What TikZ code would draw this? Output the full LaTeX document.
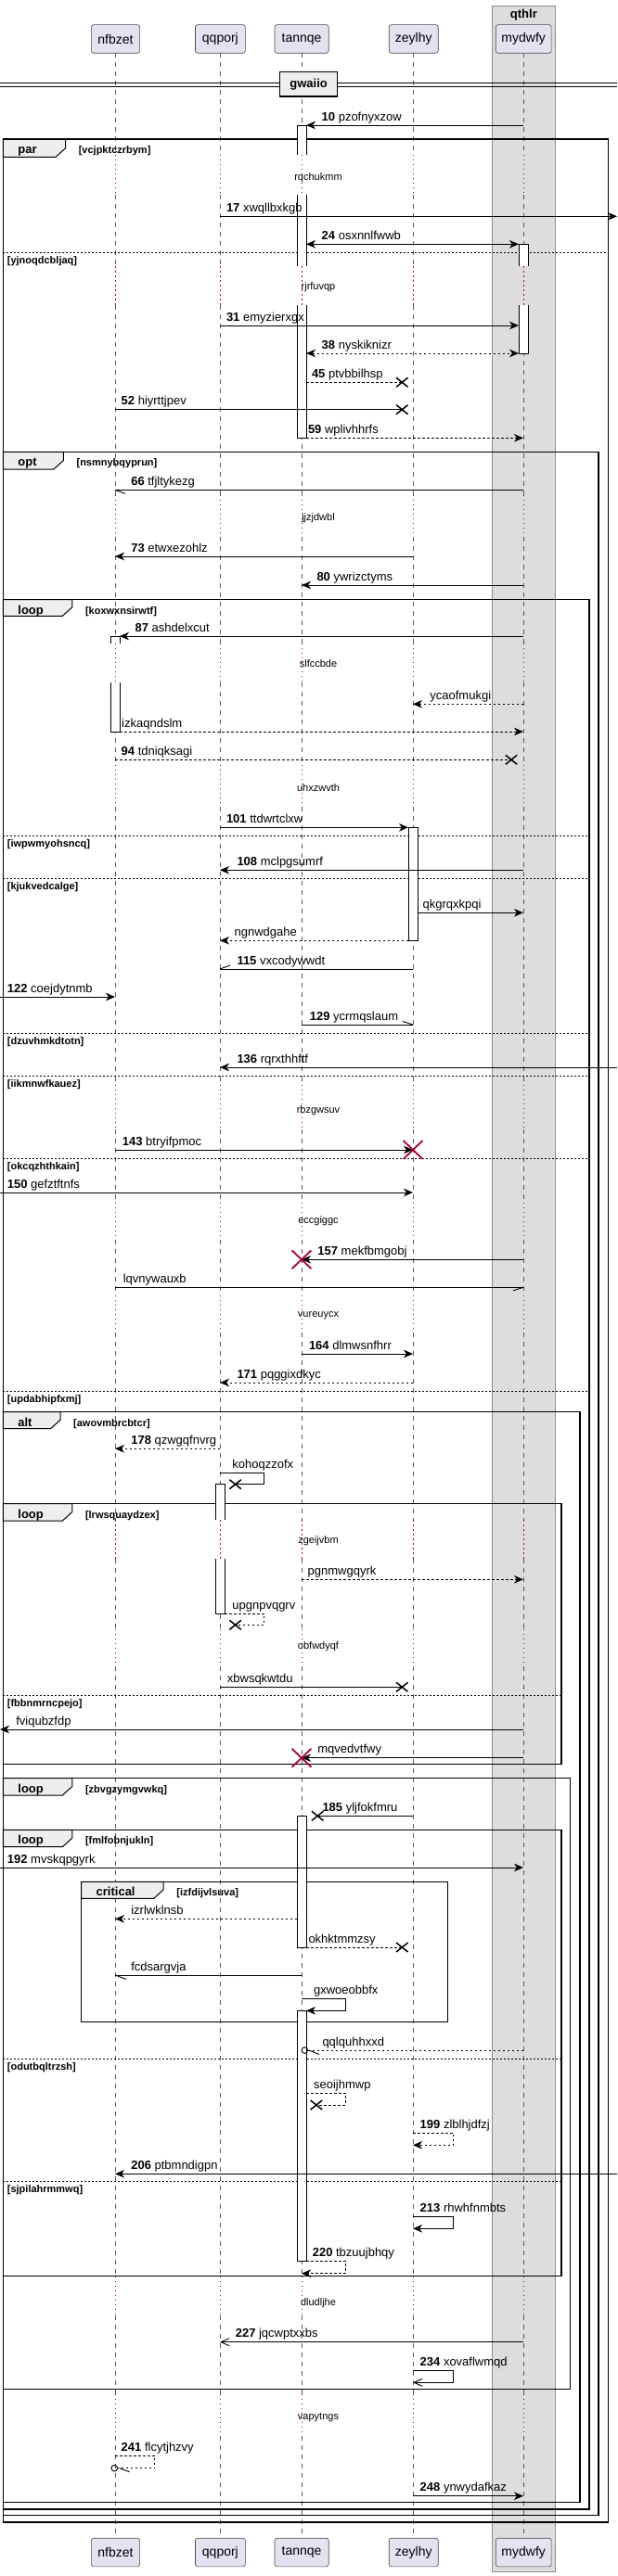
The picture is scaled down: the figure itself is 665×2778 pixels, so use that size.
\documentclass[tikz,border=0pt]{standalone}
\usepackage{fontspec}
\setmainfont{Liberation Sans}
\usetikzlibrary{arrows.meta,shapes.misc}
\definecolor{partfill}{RGB}{226,226,240}
\definecolor{dred}{RGB}{168,0,54}
\definecolor{boxgray}{RGB}{221,221,221}
\definecolor{tabfill}{RGB}{238,238,238}
\newcommand\fsz[1]{\fontsize{#1}{#1}\selectfont}
\tikzset{
  part/.style={draw=black!70,line width=0.6pt,fill=partfill,rounded corners=2.5pt,minimum height=30.6pt,inner sep=0pt,font=\fsz{14}},
  life/.style={draw=black!65,line width=0.6pt,dash pattern=on 5pt off 5pt},
  dlife/.style={draw=dred,line width=0.8pt,dash pattern=on 1.2pt off 3.8pt},
  msg/.style={line width=0.9pt,-{Stealth[length=10pt,width=8.5pt,inset=3pt]}},
  msgb/.style={line width=0.9pt,{Stealth[length=10pt,width=8.5pt,inset=3pt]}-{Stealth[length=10pt,width=8.5pt,inset=3pt]}},
  msgo/.style={line width=0.9pt,-{Straight Barb[length=9pt,width=8pt]}},
  pln/.style={line width=0.9pt},
  dsh/.style={dash pattern=on 2.5pt off 2.5pt},
  lab/.style={anchor=base west,inner sep=0pt,font=\fsz{13}},
  dtxt/.style={inner sep=0pt,font=\fsz{11}},
  frm/.style={line width=1.5pt},
  tabs/.style={draw,line width=1pt,fill=tabfill},
  kindlab/.style={anchor=base west,inner sep=0pt,font=\bfseries\fsz{13}},
  condlab/.style={anchor=base west,inner sep=0pt,font=\bfseries\fsz{11}},
  sect/.style={line width=0.8pt,dash pattern=on 2pt off 2pt},
  actb/.style={draw,line width=0.8pt},
  lostx/.style={draw,cross out,line width=1.5pt,minimum width=11pt,minimum height=8.5pt,inner sep=0pt},
  killx/.style={draw=dred,cross out,line width=1.8pt,minimum width=19pt,minimum height=18pt,inner sep=0pt},
  circend/.style={draw,circle,line width=0.9pt,minimum size=6.6pt,inner sep=0pt},
}
% #1 name, #2 x0, #3 y0, #4 x1, #5 y1, #6 tab right, #7 tab bottom, #8 kind, #9 condition
\newcommand\sqframe[9]{%
  \draw[tabs] (#2,#3) -- (#6,#3) -- (#6,#7-9.5) -- (#6-10.5,#7) -- (#2,#7) -- cycle;
  \draw[frm] (#2,#3) rectangle (#4,#5);
  \node[kindlab] (#1k) at (#2+15.8,#3+15.5) {#8};
  \node[condlab] (#1c) at (#6+14,#3+15.5) {#9};
}
\newcommand\sectline[5]{% #1 name, #2 x0, #3 x1, #4 y, #5 text
  \draw[sect] (#2,#4) -- (#3,#4);
  \node[condlab] (#1) at (7.7,#4+12) {#5};
}
\begin{document}
\begin{tikzpicture}[x=1pt,y=-1pt]
\useasboundingbox (0,0) rectangle (665,2778);
% lifeline coordinates
\coordinate (A) at (124,0);  \coordinate (Al) at (119,0); \coordinate (Ar) at (129,0);
\coordinate (B) at (237,0);  \coordinate (Bl) at (232,0); \coordinate (Br) at (242,0);
\coordinate (C) at (325,0);  \coordinate (Cl) at (320,0); \coordinate (Cr) at (330,0);
\coordinate (D) at (445,0);  \coordinate (Dl) at (440,0); \coordinate (Dr) at (450,0);
\coordinate (E) at (564,0);  \coordinate (El) at (559,0); \coordinate (Er) at (569,0);
\coordinate (L) at (0,0);    \coordinate (R) at (665,0);
% box qthlr
\fill[boxgray] (530.4,6) rectangle (598.4,2773);
\draw[black!45,line width=0.8pt] (530.4,6) rectangle (598.4,2773);
\node[font=\bfseries\fsz{13},inner sep=0pt] (qthlr) at (564.4,16) {qthlr};
% lifelines
\foreach \lx in {124,237,325,445,564}{
  \foreach \ya/\yb in {57.3/167,210/287.3,329/534,579/694,736/825,870/1165,1218/1297,1337/1397,1437/1639.3,1680.7/1757,1797/2455,2497/2582,2627/2736.7}{
    \draw[life] (\lx,\ya) -- (\lx,\yb);
  }
  \foreach \ya/\yb in {167/210,287.3/329,534/579,694/736,825/870,1165/1218,1297/1337,1397/1437,1639.3/1680.7,1757/1797,2455/2497,2582/2627}{
    \draw[dlife] (\lx,\ya) -- (\lx,\yb);
  }
}
% delays
\node[dtxt] (dl1) at (343,191.7) {rqchukmm};
\node[dtxt] (dl2) at (343,310) {rjrfuvqp};
\node[dtxt] (dl3) at (343,559) {jjzjdwbl};
\node[dtxt] (dl4) at (343,716) {slfccbde};
\node[dtxt] (dl5) at (343,849.3) {uhxzwvth};
\node[dtxt] (dl6) at (343,1197.7) {rbzgwsuv};
\node[dtxt] (dl7) at (343,1316.7) {eccgiggc};
\node[dtxt] (dl8) at (343,1418.3) {vureuycx};
\node[dtxt] (dl9) at (343,1661.7) {zgeijvbm};
\node[dtxt] (dl10) at (343,1776) {obfwdyqf};
\node[dtxt] (dl11) at (343,2483.3) {dludljhe};
\node[dtxt] (dl12) at (343,2607.3) {vapytngs};
% divider
\draw[line width=0.8pt] (0,89.3) -- (665,89.3);
\draw[line width=0.8pt] (0,93.3) -- (665,93.3);
\node[draw,line width=1.5pt,fill=tabfill,minimum width=62pt,minimum height=26.3pt,inner sep=0pt,font=\bfseries\fsz{13}] (gw) at (332.6,90.85) {gwaiio};
% frames
\sqframe{fpar}{3.4}{150}{655.3}{2720}{70.6}{169.3}{par}{[vcjpktczrbym]}
\sectline{s1}{3.4}{655.3}{272.3}{[yjnoqdcbljaq]}
\sqframe{fopt}{3.4}{487.3}{645}{2712.7}{68.4}{506}{opt}{[nsmnybqyprun]}
\sqframe{floopa}{3.4}{646.7}{635.2}{2706}{77.8}{664.3}{loop}{[koxwxnsirwtf]}
\sectline{s2}{3.4}{635.2}{901}{[iwpwmyohsncq]}
\sectline{s3}{3.4}{635.2}{947.3}{[kjukvedcalge]}
\sectline{s4}{3.4}{635.2}{1114}{[dzuvhmkdtotn]}
\sectline{s5}{3.4}{635.2}{1160}{[iikmnwfkauez]}
\sectline{s6}{3.4}{635.2}{1249}{[okcqzhthkain]}
\sectline{s7}{3.4}{635.2}{1500}{[updabhipfxmj]}
\sqframe{falt}{3.4}{1522.7}{625}{2698.3}{65}{1540.7}{alt}{[awovmbrcbtcr]}
\sqframe{floopb}{3.4}{1621.7}{605.2}{1902.7}{77.8}{1640}{loop}{[lrwsquaydzex]}
\sectline{s8}{3.4}{605.2}{1828.3}{[fbbnmrncpejo]}
\sqframe{floopc}{3.4}{1917.7}{614.6}{2576.7}{77.8}{1936}{loop}{[zbvgzymgvwkq]}
\sqframe{floopd}{3.4}{1973.3}{605.2}{2454.3}{77.8}{1991.7}{loop}{[fmlfobnjukln]}
\sectline{s9}{3.4}{605.2}{2220}{[odutbqltrzsh]}
\sectline{s10}{3.4}{605.2}{2352.7}{[sjpilahrmmwq]}
\sqframe{fcrit}{87.7}{2029.3}{482.5}{2180.7}{176.2}{2047.3}{critical}{[izfdijvlsuva]}
% activations
\fill[white] (320,135) rectangle (330,167); \draw[actb] (320,167) -- (320,135) -- (330,135) -- (330,167);
\fill[white] (320,210) rectangle (330,287.3); \draw[actb] (320,210) -- (320,287.3); \draw[actb] (330,210) -- (330,287.3);
\fill[white] (320,329) rectangle (330,472.3); \draw[actb] (320,329) -- (320,472.3) -- (330,472.3) -- (330,329);
\fill[white] (559,263.3) rectangle (569,287.3); \draw[actb] (559,287.3) -- (559,263.3) -- (569,263.3) -- (569,287.3);
\fill[white] (559,329) rectangle (569,381); \draw[actb] (559,329) -- (559,381) -- (569,381) -- (569,329);
\fill[white] (119,686) rectangle (129,694); \draw[actb] (119,694) -- (119,686) -- (129,686) -- (129,694);
\fill[white] (119,736) rectangle (129,789); \draw[actb] (119,736) -- (119,789) -- (129,789) -- (129,736);
\fill[white] (440,892.3) rectangle (450,1014.3); \draw[actb] (440,892.3) rectangle (450,1014.3);
\fill[white] (232,1600.7) rectangle (242,1639.3); \draw[actb] (232,1639.3) -- (232,1600.7) -- (242,1600.7) -- (242,1639.3);
\fill[white] (232,1680.7) rectangle (242,1740); \draw[actb] (232,1680.7) -- (232,1740) -- (242,1740) -- (242,1680.7);
\fill[white] (320,1958.3) rectangle (330,2100); \draw[actb] (320,1958.3) rectangle (330,2100);
\fill[white] (320,2168.3) rectangle (330,2438.3); \draw[actb] (320,2168.3) rectangle (330,2438.3);
% messages
\draw[msg] (E |- 0,135) -- (Cr |- 0,135);
\node[lab] (m10) at (346.5,130) {\textbf{10} pzofnyxzow};
\draw[msg] (B |- 0,233.3) -- (R |- 0,233.3);
\node[lab] (m17) at (243.8,228.3) {\textbf{17} xwqllbxkgb};
\draw[msgb] (Cr |- 0,263.3) -- (El |- 0,263.3);
\node[lab] (m24) at (346.5,258.3) {\textbf{24} osxnnlfwwb};
\draw[msg] (B |- 0,351) -- (El |- 0,351);
\node[lab] (m31) at (243.8,346) {\textbf{31} emyzierxgx};
\draw[msgb,dsh] (Cr |- 0,381) -- (El |- 0,381);
\node[lab] (m38) at (346.5,376) {\textbf{38} nyskiknizr};
\node[lostx] (x45) at (433.3,412.3) {};
\draw[pln,dsh] (Cr |- 0,412.3) -- (x45.center);
\node[lab] (m45) at (335.8,407.3) {\textbf{45} ptvbbilhsp};
\node[lostx] (x52) at (433.3,441.7) {};
\draw[pln] (A |- 0,441.7) -- (x52.center);
\node[lab] (m52) at (130.5,436.7) {\textbf{52} hiyrttjpev};
\draw[msg,dsh] (Cr |- 0,472.3) -- (E |- 0,472.3);
\node[lab] (m59) at (331.8,467.3) {\textbf{59} wplivhhrfs};
\draw[pln] (E |- 0,528.3) -- (A |- 0,528.3); \draw[pln] (A |- 0,528.3) -- ++(11,4);
\node[lab] (m66) at (141.1,523.3) {\textbf{66} tfjltykezg};
\draw[msg] (D |- 0,600) -- (A |- 0,600);
\node[lab] (m73) at (141.1,595) {\textbf{73} etwxezohlz};
\draw[msg] (E |- 0,631) -- (C |- 0,631);
\node[lab] (m80) at (341.3,626) {\textbf{80} ywrizctyms};
\draw[msg] (E |- 0,686) -- (Ar |- 0,686);
\node[lab] (m87) at (145.4,681) {\textbf{87} ashdelxcut};
\draw[msg,dsh] (E |- 0,759.3) -- (D |- 0,759.3);
\node[lab] (mycao) at (463.2,754.3) {ycaofmukgi};
\draw[msg,dsh] (Ar |- 0,789) -- (E |- 0,789);
\node[lab] (mizk) at (131,784) {izkaqndslm};
\node[lostx] (x94) at (551,819.3) {};
\draw[pln,dsh] (A |- 0,819.3) -- (x94.center);
\node[lab] (m94) at (130.5,814.3) {\textbf{94} tdniqksagi};
\draw[msg] (B |- 0,892.3) -- (Dl |- 0,892.3);
\node[lab] (m101) at (243.8,887.3) {\textbf{101} ttdwrtclxw};
\draw[msg] (E |- 0,938.3) -- (B |- 0,938.3);
\node[lab] (m108) at (255.3,933.3) {\textbf{108} mclpgsumrf};
\draw[msg] (Dr |- 0,984.3) -- (E |- 0,984.3);
\node[lab] (mqkg) at (455.5,979.3) {qkgrqxkpqi};
\draw[msg,dsh] (Dl |- 0,1014.3) -- (B |- 0,1014.3);
\node[lab] (mngn) at (252.4,1009.3) {ngnwdgahe};
\draw[pln] (D |- 0,1045) -- (B |- 0,1045); \draw[pln] (B |- 0,1045) -- ++(11,-4);
\node[lab] (m115) at (255.3,1040) {\textbf{115} vxcodywwdt};
\draw[msg] (L |- 0,1075) -- (A |- 0,1075);
\node[lab] (m122) at (7.7,1070) {\textbf{122} coejdytnmb};
\draw[pln] (C |- 0,1105) -- (D |- 0,1105); \draw[pln] (D |- 0,1105) -- ++(-11,-3.5);
\node[lab] (m129) at (333.6,1100) {\textbf{129} ycrmqslaum};
\draw[msg] (R |- 0,1151) -- (B |- 0,1151);
\node[lab] (m136) at (255.3,1146) {\textbf{136} rqrxthhftf};
\draw[msg] (A |- 0,1240) -- (D |- 0,1240);
\node[killx] (k143) at (D |- 0,1240) {};
\node[lab] (m143) at (131.7,1235) {\textbf{143} btryifpmoc};
\draw[msg] (L |- 0,1286) -- (D |- 0,1286);
\node[lab] (m150) at (7.7,1281) {\textbf{150} gefztftnfs};
\draw[msg] (E |- 0,1358.3) -- (C |- 0,1358.3);
\node[killx] (k157) at (C |- 0,1358.3) {};
\node[lab] (m157) at (342.2,1353.3) {\textbf{157} mekfbmgobj};
\draw[pln] (A |- 0,1388.3) -- (E |- 0,1388.3); \draw[pln] (E |- 0,1388.3) -- ++(-11,3.5);
\node[lab] (mlqv) at (132.6,1383.3) {lqvnywauxb};
\draw[msg] (C |- 0,1460) -- (D |- 0,1460);
\node[lab] (m164) at (332.8,1455) {\textbf{164} dlmwsnfhrr};
\draw[msg,dsh] (D |- 0,1491) -- (B |- 0,1491);
\node[lab] (m171) at (255.3,1486) {\textbf{171} pqggixdkyc};
\draw[msg,dsh] (B |- 0,1562.3) -- (A |- 0,1562.3);
\node[lab] (m178) at (141.1,1557.3) {\textbf{178} qzwgqfnvrg};
\node[lostx] (xkoh) at (253.6,1600.7) {};
\draw[pln] (B |- 0,1588.3) -- (284.4,1588.3) -- (284.4,1600.7) -- (xkoh.center);
\node[lab] (mkoh) at (250.2,1583.3) {kohoqzzofx};
\draw[msg,dsh] (C |- 0,1703.3) -- (E |- 0,1703.3);
\node[lab] (mpgn) at (331.5,1698.3) {pgnmwgqyrk};
\node[lostx] (xupg) at (253.6,1752.3) {};
\draw[pln,dsh] (Br |- 0,1740) -- (284.4,1740) -- (284.4,1752.3) -- (xupg.center);
\node[lab] (mupg) at (250.2,1735) {upgnpvqgrv};
\node[lostx] (xxbw) at (433.3,1819.3) {};
\draw[pln] (B |- 0,1819.3) -- (xxbw.center);
\node[lab] (mxbw) at (244.7,1814.3) {xbwsqkwtdu};
\draw[msg] (E |- 0,1865) -- (L |- 0,1865);
\node[lab] (mfvi) at (17.1,1860) {fviqubzfdp};
\draw[msg] (E |- 0,1895.7) -- (C |- 0,1895.7);
\node[killx] (kmqv) at (C |- 0,1895.7) {};
\node[lab] (mmqv) at (342.2,1890.7) {mqvedvtfwy};
\node[lostx] (x185) at (342.2,1958.3) {};
\draw[pln] (D |- 0,1958.3) -- (x185.center);
\node[lab] (m185) at (347.3,1953.3) {\textbf{185} yljfokfmru};
\draw[msg] (L |- 0,2014) -- (E |- 0,2014);
\node[lab] (m192) at (7.7,2009) {\textbf{192} mvskqpgyrk};
\draw[msg,dsh] (Cl |- 0,2069.3) -- (A |- 0,2069.3);
\node[lab] (mizr) at (141.1,2064.3) {izrlwklnsb};
\node[lostx] (xokh) at (433.3,2100) {};
\draw[pln,dsh] (Cr |- 0,2100) -- (xokh.center);
\node[lab] (mokh) at (332.3,2095) {okhktmmzsy};
\draw[pln] (C |- 0,2130) -- (A |- 0,2130); \draw[pln] (A |- 0,2130) -- ++(12,4.3);
\node[lab] (mfcd) at (141.1,2125) {fcdsargvja};
\draw[msg] (C |- 0,2155.7) -- (372.1,2155.7) -- (372.1,2168.3) -- (Cr |- 0,2168.3);
\node[lab] (mgxw) at (337.9,2150.7) {gxwoeobbfx};
\node[circend] (cqql) at (328.3,2211) {};
\draw[pln,dsh] (E |- 0,2211) -- (cqql.east);
\draw[pln] (333,2211) -- ++(11,4.5);
\node[lab] (mqql) at (347.3,2206) {qqlquhhxxd};
\node[lostx] (xseo) at (340.9,2270) {};
\draw[pln,dsh] (Cr |- 0,2257.3) -- (372.1,2257.3) -- (372.1,2270) -- (xseo.center);
\node[lab] (mseo) at (337.9,2252.3) {seoijhmwp};
\draw[msg,dsh] (D |- 0,2300) -- (488.5,2300) -- (488.5,2313.3) -- (D |- 0,2313.3);
\node[lab] (m199) at (452.5,2295) {\textbf{199} zlblhjdfzj};
\draw[msg] (R |- 0,2344.3) -- (A |- 0,2344.3);
\node[lab] (m206) at (141.1,2339.3) {\textbf{206} ptbmndigpn};
\draw[msg] (D |- 0,2390) -- (488.5,2390) -- (488.5,2403.3) -- (D |- 0,2403.3);
\node[lab] (m213) at (452.5,2385) {\textbf{213} rhwhfnmbts};
\draw[msg,dsh] (Cr |- 0,2438.3) -- (372.1,2438.3) -- (372.1,2451.7) -- (C |- 0,2451.7);
\node[lab] (m220) at (336.6,2433.3) {\textbf{220} tbzuujbhqy};
\draw[msgo] (E |- 0,2525.7) -- (B |- 0,2525.7);
\node[lab] (m227) at (253.6,2520.7) {\textbf{227} jqcwptxxbs};
\draw[msgo] (D |- 0,2556) -- (488.5,2556) -- (488.5,2569.3) -- (D |- 0,2569.3);
\node[lab] (m234) at (452.5,2551) {\textbf{234} xovaflwmqd};
\node[circend] (c241) at (123.3,2661.7) {};
\draw[pln,dsh] (A |- 0,2648.3) -- (166.8,2648.3) -- (166.8,2661.7) -- (c241.east);
\draw[pln] (128.5,2661.7) -- ++(11,4);
\node[lab] (m241) at (130.5,2643.3) {\textbf{241} flcytjhzvy};
\draw[msg] (D |- 0,2691.7) -- (E |- 0,2691.7);
\node[lab] (m248) at (452.5,2686.7) {\textbf{248} ynwydafkaz};
% participants
\node[part,minimum width=52.2pt] (pA) at (124.5,42) {nfbzet};
\node[part,minimum width=53.9pt] (pB) at (237.4,42) {qqporj};
\node[part,minimum width=58.2pt] (pC) at (325.1,42) {tannqe};
\node[part,minimum width=53pt] (pD) at (445.7,42) {zeylhy};
\node[part,minimum width=59.9pt] (pE) at (564.2,42) {mydwfy};
\node[part,minimum width=52.2pt] (pAb) at (124.5,2752.5) {nfbzet};
\node[part,minimum width=53.9pt] (pBb) at (237.4,2752.5) {qqporj};
\node[part,minimum width=58.2pt] (pCb) at (325.1,2752.5) {tannqe};
\node[part,minimum width=53pt] (pDb) at (445.7,2752.5) {zeylhy};
\node[part,minimum width=59.9pt] (pEb) at (564.2,2752.5) {mydwfy};
\end{tikzpicture}
\end{document}
